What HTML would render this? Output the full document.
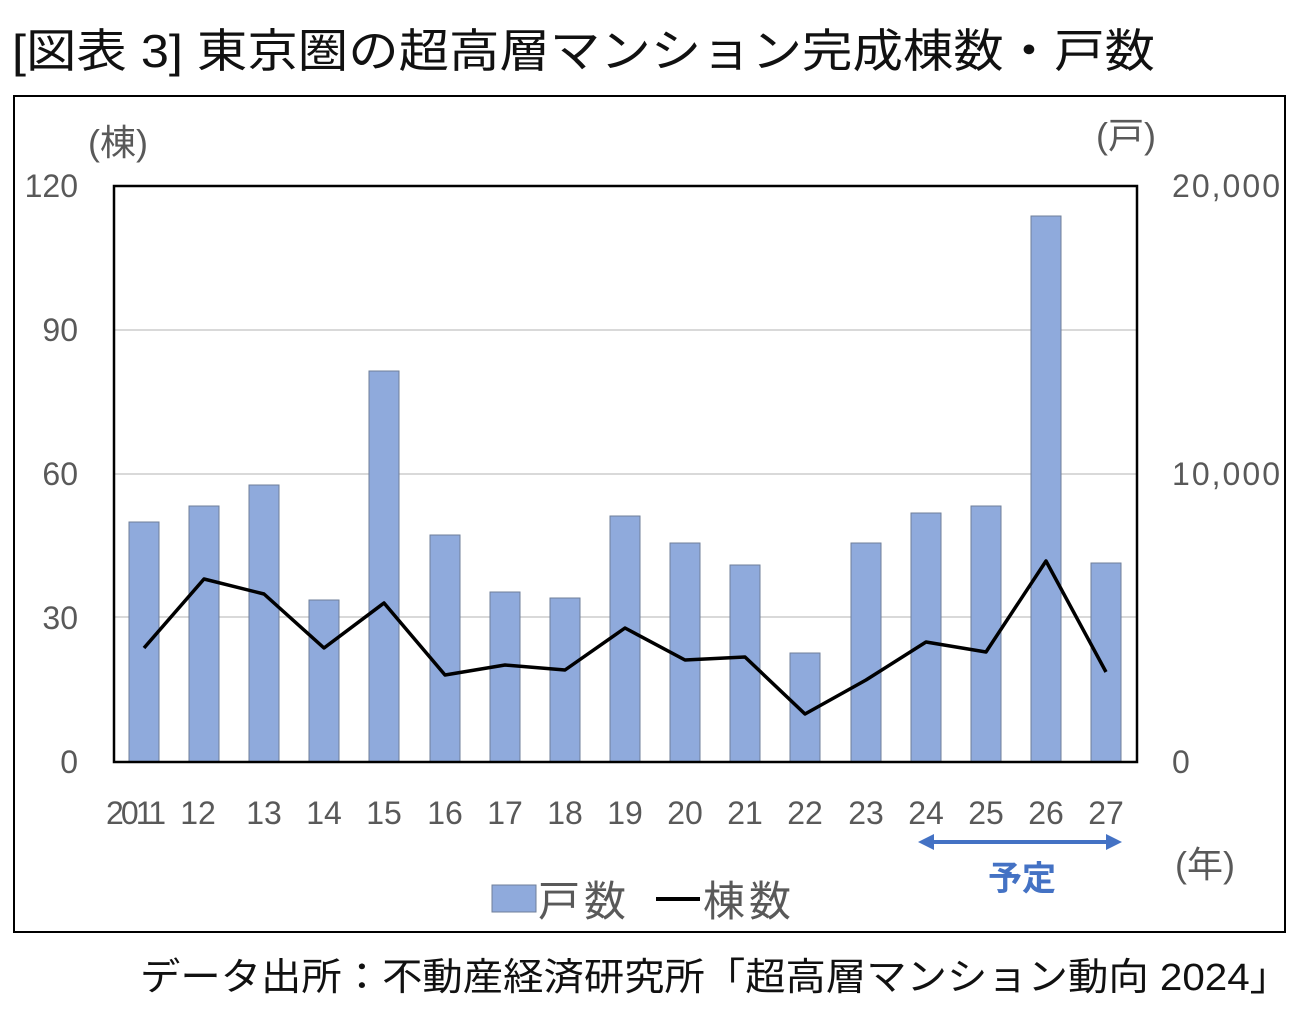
<!DOCTYPE html>
<html><head><meta charset="utf-8"><style>
body{margin:0;background:#fff;width:1300px;height:1014px;overflow:hidden}
svg text{font-family:"Liberation Sans","Noto Sans CJK JP",sans-serif}
</style></head><body>
<svg width="1300" height="1014" xmlns="http://www.w3.org/2000/svg">
<text x="12" y="67" font-size="46" fill="#111" textLength="1143" lengthAdjust="spacingAndGlyphs">[図表 3] 東京圏の超高層マンション完成棟数・戸数</text>
<rect x="14" y="96" width="1271" height="836" fill="#fff" stroke="#000" stroke-width="2"/>
<g stroke="#d9d9d9" stroke-width="2">
<line x1="114" x2="1137" y1="330" y2="330"/><line x1="114" x2="1137" y1="474" y2="474"/><line x1="114" x2="1137" y1="617" y2="617"/>
</g>
<g fill="#8faadc" stroke="#6f7f9a" stroke-width="1">
<rect x="129" y="522" width="30" height="240"/>
<rect x="189" y="506" width="30" height="256"/>
<rect x="249" y="485" width="30" height="277"/>
<rect x="309" y="600" width="30" height="162"/>
<rect x="369" y="371" width="30" height="391"/>
<rect x="430" y="535" width="30" height="227"/>
<rect x="490" y="592" width="30" height="170"/>
<rect x="550" y="598" width="30" height="164"/>
<rect x="610" y="516" width="30" height="246"/>
<rect x="670" y="543" width="30" height="219"/>
<rect x="730" y="565" width="30" height="197"/>
<rect x="790" y="653" width="30" height="109"/>
<rect x="851" y="543" width="30" height="219"/>
<rect x="911" y="513" width="30" height="249"/>
<rect x="971" y="506" width="30" height="256"/>
<rect x="1031" y="216" width="30" height="546"/>
<rect x="1091" y="563" width="30" height="199"/>
</g>
<polyline fill="none" stroke="#000" stroke-width="3.5" stroke-linejoin="round" points="144,648 204,579 264,594 324,648 384,603 445,675 505,665 565,670 625,628 685,660 745,657 805,714 866,680 926,642 986,652 1046,561 1106,672"/>
<rect x="114" y="186" width="1023" height="576" fill="none" stroke="#000" stroke-width="2.5"/>
<g font-size="32" fill="#595959" text-anchor="end">
<text x="78" y="197">120</text><text x="78" y="341">90</text><text x="78" y="485">60</text><text x="78" y="629">30</text><text x="78" y="773">0</text>
</g>
<g font-size="32" fill="#595959">
<text x="1172" y="197" textLength="108">20,000</text><text x="1172" y="485" textLength="108">10,000</text><text x="1172" y="773">0</text>
<text x="88" y="155" font-size="36">(棟)</text><text x="1096" y="148" font-size="36">(戸)</text>
<text x="1175" y="877" font-size="36">(年)</text>
<text x="106" y="824" textLength="60">2011</text>
</g>
<g font-size="32" fill="#595959" text-anchor="middle">
<text x="198" y="824">12</text><text x="264" y="824">13</text><text x="324" y="824">14</text><text x="384" y="824">15</text><text x="445" y="824">16</text><text x="505" y="824">17</text><text x="565" y="824">18</text><text x="625" y="824">19</text><text x="685" y="824">20</text><text x="745" y="824">21</text><text x="805" y="824">22</text><text x="866" y="824">23</text><text x="926" y="824">24</text><text x="986" y="824">25</text><text x="1046" y="824">26</text><text x="1106" y="824">27</text>
</g>
<g stroke="#4472c4" stroke-width="4" fill="#4472c4">
<line x1="930" y1="842" x2="1110" y2="842"/>
<polygon points="918,842 934,834 934,850" stroke="none"/><polygon points="1122,842 1106,834 1106,850" stroke="none"/>
</g>
<text x="1022" y="890" font-size="34" font-weight="bold" fill="#4472c4" text-anchor="middle">予定</text>
<rect x="492" y="885" width="44" height="27" fill="#8faadc" stroke="#6f7f9a"/>
<text x="538" y="916" font-size="42" fill="#595959" textLength="88">戸数</text>
<line x1="656" y1="899" x2="700" y2="899" stroke="#000" stroke-width="4"/>
<text x="703" y="916" font-size="42" fill="#595959" textLength="88">棟数</text>
<text x="140" y="990" font-size="38" fill="#111" textLength="1150" lengthAdjust="spacingAndGlyphs">データ出所：不動産経済研究所「超高層マンション動向 2024」</text>
</svg>
</body></html>
